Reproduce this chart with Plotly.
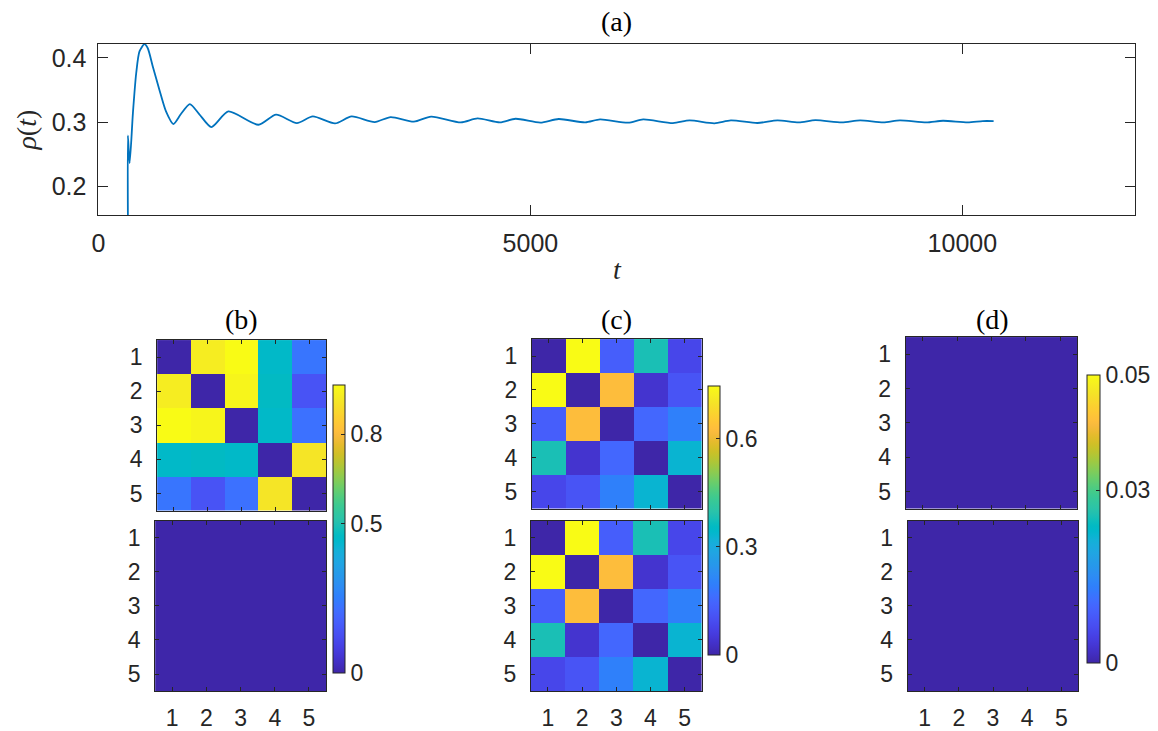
import plotly.graph_objects as go

# ---------------- data ----------------
t_vals = [341, 341, 361, 399, 437, 475, 533, 571, 629, 706, 782, 867, 955, 1058, 1166,
          1308, 1503, 1852, 2056, 2297, 2481, 2738, 2930, 3198, 3383, 3651, 3851, 4195,
          4388, 4648, 4828, 5116, 5327, 5634, 5806, 6132, 6305, 6650, 6842, 7130, 7321,
          7628, 7860, 8107, 8299, 8606, 8817, 9086, 9277, 9584, 9776, 10063, 10236, 10362]
rho_vals = [0.15, 0.279, 0.236, 0.314, 0.376, 0.410, 0.4215, 0.415, 0.3866, 0.350, 0.3165,
            0.2969, 0.3125, 0.328, 0.3125, 0.2922, 0.3165, 0.2958, 0.3114, 0.2984, 0.3087,
            0.2978, 0.3087, 0.300, 0.3078, 0.3005, 0.3085, 0.2995, 0.3056, 0.2994, 0.3051,
            0.299, 0.3047, 0.2994, 0.304, 0.299, 0.304, 0.2984, 0.3025, 0.298, 0.3025,
            0.2985, 0.3025, 0.2994, 0.303, 0.2994, 0.3025, 0.2994, 0.3025, 0.2994, 0.302,
            0.2994, 0.3015, 0.3015]

nodes = [1, 2, 3, 4, 5]

b_top = [[0.00, 0.93, 0.966, 0.45, 0.23],
         [0.93, 0.00, 0.95, 0.46, 0.14],
         [0.966, 0.95, 0.00, 0.45, 0.22],
         [0.45, 0.46, 0.45, 0.00, 0.91],
         [0.23, 0.14, 0.22, 0.91, 0.00]]
b_bottom = [[0.0010, 0.0012, 0.0012, 0.0011, 0.0011],
            [0.0012, 0.0010, 0.0012, 0.0011, 0.0011],
            [0.0012, 0.0012, 0.0010, 0.0011, 0.0011],
            [0.0011, 0.0011, 0.0011, 0.0010, 0.0012],
            [0.0011, 0.0011, 0.0011, 0.0012, 0.0010]]
c_top = [[0.00, 0.746, 0.13, 0.38, 0.08],
         [0.746, 0.00, 0.625, 0.04, 0.11],
         [0.13, 0.625, 0.00, 0.15, 0.20],
         [0.38, 0.04, 0.15, 0.00, 0.33],
         [0.08, 0.11, 0.20, 0.33, 0.00]]
c_bottom = [[0.00, 0.746, 0.13, 0.38, 0.08],
            [0.746, 0.00, 0.625, 0.04, 0.11],
            [0.13, 0.625, 0.00, 0.15, 0.20],
            [0.38, 0.04, 0.15, 0.00, 0.33],
            [0.08, 0.11, 0.20, 0.33, 0.00]]
d_top = [[0.0] * 5 for _ in range(5)]
d_bottom = [[0.0] * 5 for _ in range(5)]

cmax_b, cmax_c, cmax_d = 0.966, 0.746, 0.05

# ---------------- style ----------------
PARULA = [
    (0.2422, 0.1504, 0.6603), (0.2504, 0.1650, 0.7076), (0.2578, 0.1818, 0.7511), (0.2647, 0.1978, 0.7952),
    (0.2706, 0.2147, 0.8364), (0.2751, 0.2342, 0.8710), (0.2783, 0.2559, 0.8991), (0.2803, 0.2782, 0.9221),
    (0.2813, 0.3006, 0.9414), (0.2810, 0.3228, 0.9579), (0.2795, 0.3447, 0.9717), (0.2760, 0.3667, 0.9829),
    (0.2699, 0.3892, 0.9906), (0.2602, 0.4123, 0.9952), (0.2440, 0.4358, 0.9988), (0.2206, 0.4603, 0.9973),
    (0.1963, 0.4847, 0.9892), (0.1834, 0.5074, 0.9798), (0.1786, 0.5289, 0.9682), (0.1764, 0.5499, 0.9520),
    (0.1687, 0.5703, 0.9359), (0.1540, 0.5902, 0.9218), (0.1460, 0.6091, 0.9079), (0.1380, 0.6276, 0.8973),
    (0.1248, 0.6459, 0.8883), (0.1113, 0.6635, 0.8763), (0.0952, 0.6798, 0.8598), (0.0689, 0.6948, 0.8394),
    (0.0297, 0.7082, 0.8163), (0.0036, 0.7203, 0.7917), (0.0067, 0.7312, 0.7660), (0.0433, 0.7411, 0.7394),
    (0.0964, 0.7500, 0.7120), (0.1408, 0.7584, 0.6842), (0.1717, 0.7670, 0.6554), (0.1938, 0.7758, 0.6251),
    (0.2161, 0.7843, 0.5923), (0.2470, 0.7918, 0.5567), (0.2906, 0.7973, 0.5188), (0.3406, 0.8008, 0.4789),
    (0.3909, 0.8029, 0.4354), (0.4456, 0.8024, 0.3909), (0.5044, 0.7993, 0.3480), (0.5616, 0.7942, 0.3045),
    (0.6174, 0.7876, 0.2612), (0.6720, 0.7793, 0.2227), (0.7242, 0.7698, 0.1910), (0.7738, 0.7598, 0.1646),
    (0.8203, 0.7498, 0.1535), (0.8634, 0.7406, 0.1596), (0.9035, 0.7330, 0.1774), (0.9393, 0.7288, 0.2100),
    (0.9728, 0.7298, 0.2394), (0.9956, 0.7434, 0.2371), (0.9970, 0.7659, 0.2199), (0.9952, 0.7893, 0.2028),
    (0.9892, 0.8136, 0.1885), (0.9786, 0.8386, 0.1766), (0.9676, 0.8639, 0.1643), (0.9610, 0.8890, 0.1537),
    (0.9597, 0.9135, 0.1423), (0.9628, 0.9373, 0.1265), (0.9691, 0.9606, 0.1064), (0.9769, 0.9839, 0.0805)]
parula = [[i / 63, "rgb(%d,%d,%d)" % (round(r * 255), round(g * 255), round(b * 255))]
          for i, (r, g, b) in enumerate(PARULA)]

W, H = 1158, 731
AX = "#262626"
SANS = "Liberation Sans, Arial, sans-serif"
SERIF = "Liberation Serif, Times New Roman, serif"
TOPFONT = dict(family=SANS, size=25, color=AX)
TICKFONT = dict(family=SANS, size=23, color=AX)


def fx(px):
    return px / W


def fy(py):
    return 1 - py / H


fig = go.Figure()
fig.add_trace(go.Scatter(x=t_vals, y=rho_vals, mode="lines",
                         line=dict(color="#0072BD", width=1.8, shape="spline", smoothing=0.7),
                         xaxis="x", yaxis="y", showlegend=False))

panels = [
    ("x2", "y2", b_top, "coloraxis"), ("x3", "y3", b_bottom, "coloraxis"),
    ("x4", "y4", c_top, "coloraxis2"), ("x5", "y5", c_bottom, "coloraxis2"),
    ("x6", "y6", d_top, "coloraxis3"), ("x7", "y7", d_bottom, "coloraxis3"),
]
for xa, ya, z, ca in panels:
    fig.add_trace(go.Heatmap(z=z, x=nodes, y=nodes, xaxis=xa, yaxis=ya, coloraxis=ca))

# pixel boxes: (left, right, top, bottom)
boxes = [
    (151, 321, 341, 512), (149, 321, 522, 693),
    (528, 699, 340, 510), (527, 699, 522, 693),
    (904, 1077, 338, 510), (906, 1078, 522, 693),
]

layout = dict(
    width=W, height=H, margin=dict(l=0, r=0, t=0, b=0),
    paper_bgcolor="white", plot_bgcolor="white", showlegend=False,
    xaxis=dict(domain=[fx(92), fx(1135)], range=[0, 12000], tickvals=[0, 5000, 10000],
               ticktext=["0", "5000", "10000"], ticks="inside", ticklen=10, tickcolor=AX,
               showline=True, linecolor=AX, linewidth=1, mirror="ticks", showgrid=False,
               zeroline=False, tickfont=TOPFONT, anchor="y", ticklabelstandoff=6,
               title=dict(text="<i>t</i>", font=dict(family=SERIF, size=28, color=AX), standoff=2)),
    yaxis=dict(domain=[fy(216), fy(44)], range=[0.1545, 0.4218], tickvals=[0.2, 0.3, 0.4],
               ticktext=["0.2", "0.3", "0.4"], ticks="inside", ticklen=10, tickcolor=AX,
               showline=True, linecolor=AX, linewidth=1, mirror="ticks", showgrid=False,
               zeroline=False, tickfont=TOPFONT, anchor="x", ticklabelstandoff=6,
               title=dict(text="<i>ρ</i>(<i>t</i>)", font=dict(family=SERIF, size=28, color=AX), standoff=6)),
)

for i, (l, r, t, b) in enumerate(boxes):
    n = i + 2
    bottom_row = i % 2 == 1
    layout["xaxis%d" % n] = dict(domain=[fx(l), fx(r)], range=[0.5, 5.5], tickvals=nodes,
                                 showticklabels=bottom_row, ticks="inside", ticklen=4, tickcolor=AX,
                                 showline=True, linecolor=AX, linewidth=1, mirror="ticks",
                                 showgrid=False, zeroline=False, tickfont=TICKFONT,
                                 ticklabelstandoff=6, anchor="y%d" % n)
    layout["yaxis%d" % n] = dict(domain=[fy(b), fy(t)], range=[5.5, 0.5], tickvals=nodes,
                                 ticks="inside", ticklen=4, tickcolor=AX,
                                 showline=True, linecolor=AX, linewidth=1, mirror="ticks",
                                 showgrid=False, zeroline=False, tickfont=TICKFONT,
                                 ticklabelstandoff=9, anchor="x%d" % n)


def cbar(left, top, length, thick, vals, texts):
    return dict(x=fx(left), xanchor="left", y=fy(top), yanchor="top",
                len=length, lenmode="pixels", thickness=thick, thicknessmode="pixels",
                xpad=0, ypad=0, outlinewidth=1, outlinecolor=AX,
                ticks="inside", ticklen=4, tickcolor=AX, tickvals=vals, ticktext=texts,
                tickfont=TICKFONT)


layout["coloraxis"] = dict(colorscale=parula, cmin=0, cmax=cmax_b,
                           colorbar=cbar(328, 386, 288, 12, [0, 0.5, 0.8], ["0", "0.5", "0.8"]))
layout["coloraxis2"] = dict(colorscale=parula, cmin=0, cmax=cmax_c,
                            colorbar=cbar(705, 387, 269, 12, [0, 0.3, 0.6], ["0", "0.3", "0.6"]))
layout["coloraxis3"] = dict(colorscale=parula, cmin=0, cmax=cmax_d,
                            colorbar=cbar(1087, 376, 288, 13, [0, 0.03, 0.05], ["0", "0.03", "0.05"]))

titles = [("(a)", 613, 22), ("(b)", 236, 320), ("(c)", 613, 320), ("(d)", 991, 320)]
layout["annotations"] = [dict(text=s, x=fx(px), y=fy(py), xref="paper", yref="paper",
                              xanchor="center", yanchor="middle", showarrow=False,
                              font=dict(family=SERIF, size=28, color="black"))
                         for s, px, py in titles]

fig.update_layout(**layout)
fig.write_html("out.html")
